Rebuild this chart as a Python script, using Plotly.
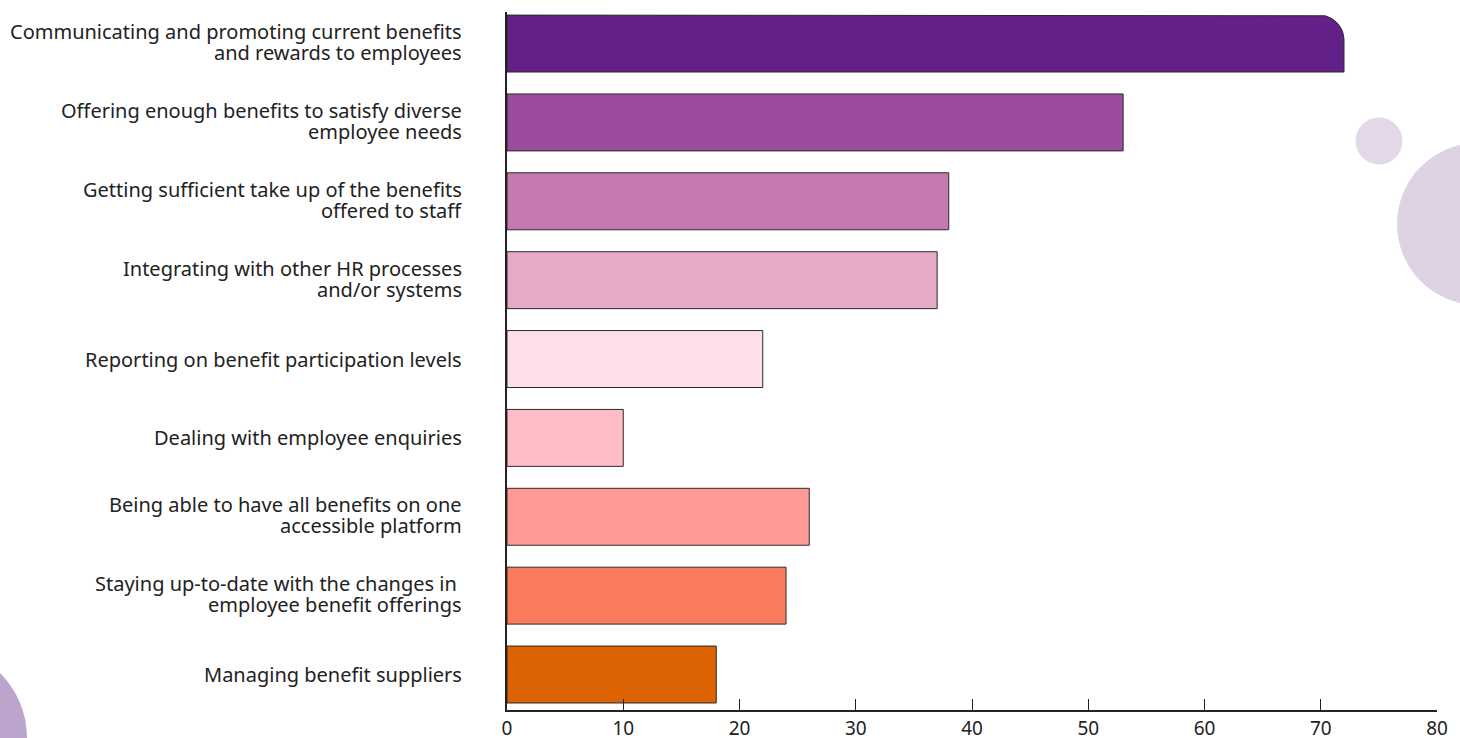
import math
import plotly.graph_objects as go

# Survey responses: biggest challenges in managing employee benefits (%)
labels = [
    "Communicating and promoting current benefits<br>and rewards to employees",
    "Offering enough benefits to satisfy diverse<br>employee needs",
    "Getting sufficient take up of the benefits<br>offered to staff",
    "Integrating with other HR processes<br>and/or systems",
    "Reporting on benefit participation levels",
    "Dealing with employee enquiries",
    "Being able to have all benefits on one<br>accessible platform",
    "Staying up-to-date with the changes in <br>employee benefit offerings",
    "Managing benefit suppliers",
]
values = [72, 53, 38, 37, 22, 10, 26, 24, 18]
colors = ["#632089", "#9B4C9C", "#C479B0", "#E5AAC8", "#FDDFEA",
          "#FEBCC7", "#FF9B94", "#FB7B5D", "#DD6201"]
x_ticks = [0, 10, 20, 30, 40, 50, 60, 70, 80]

W, H = 1460, 738
ML, MR, MT, MB = 507, 23, 12, 28
plot_w = W - ML - MR
plot_h = H - MT - MB
x_range = [0, 80]
y_range = [8.45, -0.40]
bar_w = 0.722
outline = "#2a2a2a"
text_color = "#222222"
font_family = "Noto Sans"
font_size = 20
line_gap = 21  # px between label lines

idx = list(range(len(labels)))
fig = go.Figure()

# Bars 2..n as regular horizontal bars
fig.add_trace(go.Bar(
    x=values[1:], y=idx[1:], orientation="h", width=bar_w,
    marker=dict(color=colors[1:], line=dict(color=outline, width=1)),
    hoverinfo="x", showlegend=False,
))

# Leading bar with a rounded top-right corner, built from its value
v0 = values[0]
c0 = idx[0]
half = bar_w / 2
r_px = 25
rx = r_px * (x_range[1] - x_range[0]) / plot_w
ry = r_px * abs(y_range[0] - y_range[1]) / plot_h
px_ = [0, v0 - rx]
py_ = [c0 - half, c0 - half]
for k in range(1, 21):
    t = math.pi / 2 * k / 20
    px_.append(v0 - rx + rx * math.sin(t))
    py_.append(c0 - half + ry - ry * math.cos(t))
px_ += [v0, 0, 0]
py_ += [c0 + half, c0 + half, c0 - half]
fig.add_trace(go.Scatter(
    x=px_, y=py_, mode="lines", fill="toself", fillcolor=colors[0],
    line=dict(color=outline, width=1), hoverinfo="skip", showlegend=False,
))

# Category labels, one annotation per line for tight line spacing
annotations = []
for i, lab in enumerate(labels):
    lines = lab.split("<br>")
    n = len(lines)
    lift = 1.5 if n > 1 else 0
    for j, line in enumerate(lines):
        offset = ((n - 1) / 2 - j) * line_gap + lift
        annotations.append(dict(
            text=line, xref="paper", x=0, xanchor="right", xshift=-43,
            yref="y", y=i, yanchor="middle", yshift=offset,
            showarrow=False, font=dict(family=font_family, size=font_size,
                                       color=text_color),
        ))


def to_paper(px, py):
    return (px - ML) / plot_w, (H - MB - py) / plot_h


def circle(cx, cy, r, color):
    x0, y0 = to_paper(cx - r, cy + r)
    x1, y1 = to_paper(cx + r, cy - r)
    return dict(type="circle", xref="paper", yref="paper", x0=x0, y0=y0,
                x1=x1, y1=y1, fillcolor=color, line=dict(width=0),
                layer="below")


fig.update_layout(
    width=W, height=H,
    margin=dict(l=ML, r=MR, t=MT, b=MB, autoexpand=False),
    paper_bgcolor="white", plot_bgcolor="rgba(0,0,0,0)",
    font=dict(family=font_family, size=font_size, color=text_color),
    annotations=annotations,
    shapes=[
        circle(1379, 141, 23.5, "#E2D8E8"),
        circle(1478, 224, 81, "#DDD3E5"),
        circle(-65, 738, 92, "#BCA5CC"),
    ],
    xaxis=dict(
        range=x_range, tickvals=x_ticks, showgrid=False, zeroline=False,
        showline=True, linecolor=text_color, linewidth=1.5, automargin=False,
        ticks="inside", ticklen=11, tickcolor=text_color, tickwidth=1,
        tickfont=dict(size=19, color=text_color),
    ),
    yaxis=dict(
        range=y_range, tickvals=idx, showticklabels=False, showgrid=False,
        zeroline=False, showline=True, linecolor=text_color, linewidth=1.5,
        ticks="", automargin=False,
    ),
)

fig.write_html("out.html")
